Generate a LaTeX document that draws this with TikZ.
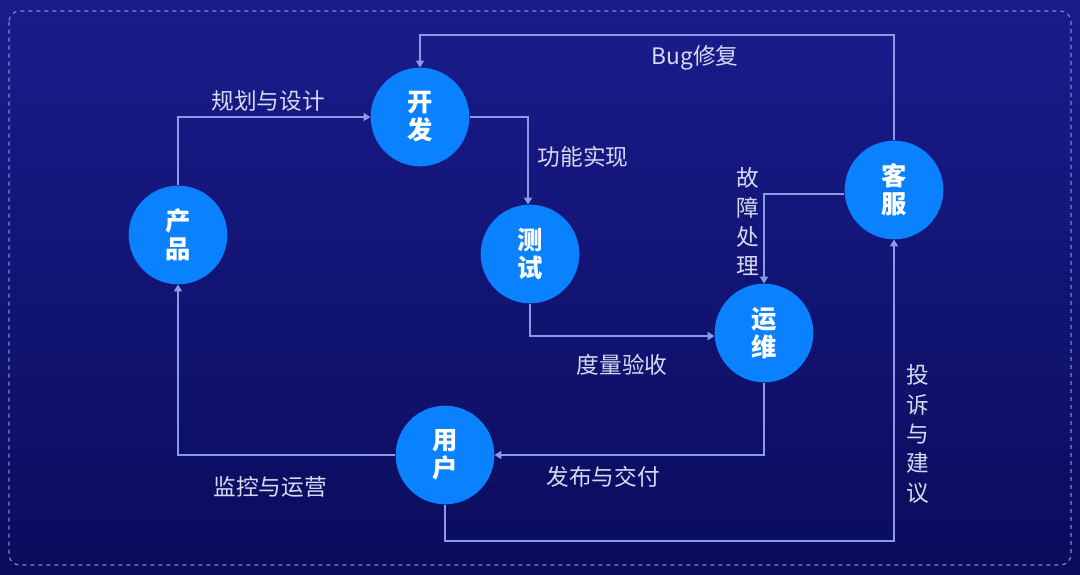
\documentclass[tikz,border=0pt]{standalone}
\usepackage{fontspec}
\setmainfont{Noto Sans CJK SC}
\usetikzlibrary{arrows.meta,positioning}
\definecolor{bgtop}{RGB}{26,28,140}
\definecolor{bgbot}{RGB}{10,12,92}
\definecolor{ring}{RGB}{10,130,255}
\definecolor{wire}{RGB}{140,152,232}
\definecolor{lbl}{RGB}{214,218,242}
\definecolor{frame}{RGB}{120,135,220}
\tikzset{
  stage/.style={circle,fill=ring,minimum size=74pt,inner sep=0pt,text=white,
    font=\fontsize{19}{21}\selectfont\bfseries,align=center},
  flow/.style={draw=wire,line width=1.1pt,-{Triangle[width=6pt,length=5pt]}},
  lab/.style={text=lbl,font=\fontsize{17}{20}\selectfont,inner sep=0pt},
  vlab/.style={text=lbl,font=\fontsize{17}{22}\selectfont,inner sep=0pt,align=center},
}
\begin{document}
\begin{tikzpicture}[x=0.75pt,y=-0.75pt]
\shade[top color=bgtop,bottom color=bgbot] (0,0) rectangle (1080,574);
\useasboundingbox (0,0) rectangle (1080,574);
\draw[frame,dashed,line width=0.9pt,rounded corners=8pt] (9,11) rectangle (1071,565);

\node[stage] (dev) at (420,117) {开\\发};
\node[stage] (prod) at (178,235) {产\\品};
\node[stage] (test) at (530,254) {测\\试};
\node[stage] (cs) at (894,190) {客\\服};
\node[stage] (ops) at (764,333) {运\\维};
\node[stage] (user) at (445,455) {用\\户};

\coordinate (c1) at (178,117);
\coordinate (c2) at (528,117);
\coordinate (c3) at (530,336);
\coordinate (c4) at (764,455);
\coordinate (c5) at (178,455);
\coordinate (c6a) at (445,541);
\coordinate (c6b) at (894,541);
\coordinate (c7a) at (894,35);
\coordinate (c7b) at (420,35);
\coordinate (c8) at (764,194);

\draw[flow] (prod.north) -- (c1) -- (dev.west);
\draw[flow] (dev.east) -- (c2) -- (c2 |- test.north);
\draw[flow] (test.south) -- (c3) -- (ops.west |- c3);
\draw[flow] (ops.south) -- (c4) -- (user.east);
\draw[flow] (user.west) -- (c5) -- (prod.south);
\draw[flow] (user.south) -- (c6a) -- (c6b) -- (cs.south);
\draw[flow] (cs.north) -- (c7a) -- (c7b) -- (dev.north);
\draw[flow] (cs.west |- c8) -- (c8) -- (ops.north);

\node[lab] (l1) at (268,101) {规划与设计};
\node[lab] (l2) at (583,157) {功能实现};
\node[lab] (l3) at (622,365) {度量验收};
\node[lab] (l4) at (603,477) {发布与交付};
\node[lab] (l5) at (270,487) {监控与运营};
\node[lab] (l7) at (695,58) {Bug修复};
\node[vlab] (l8) at (748,222) {故\\障\\处\\理};
\node[vlab] (l6) at (918,434) {投\\诉\\与\\建\\议};
\end{tikzpicture}
\end{document}
